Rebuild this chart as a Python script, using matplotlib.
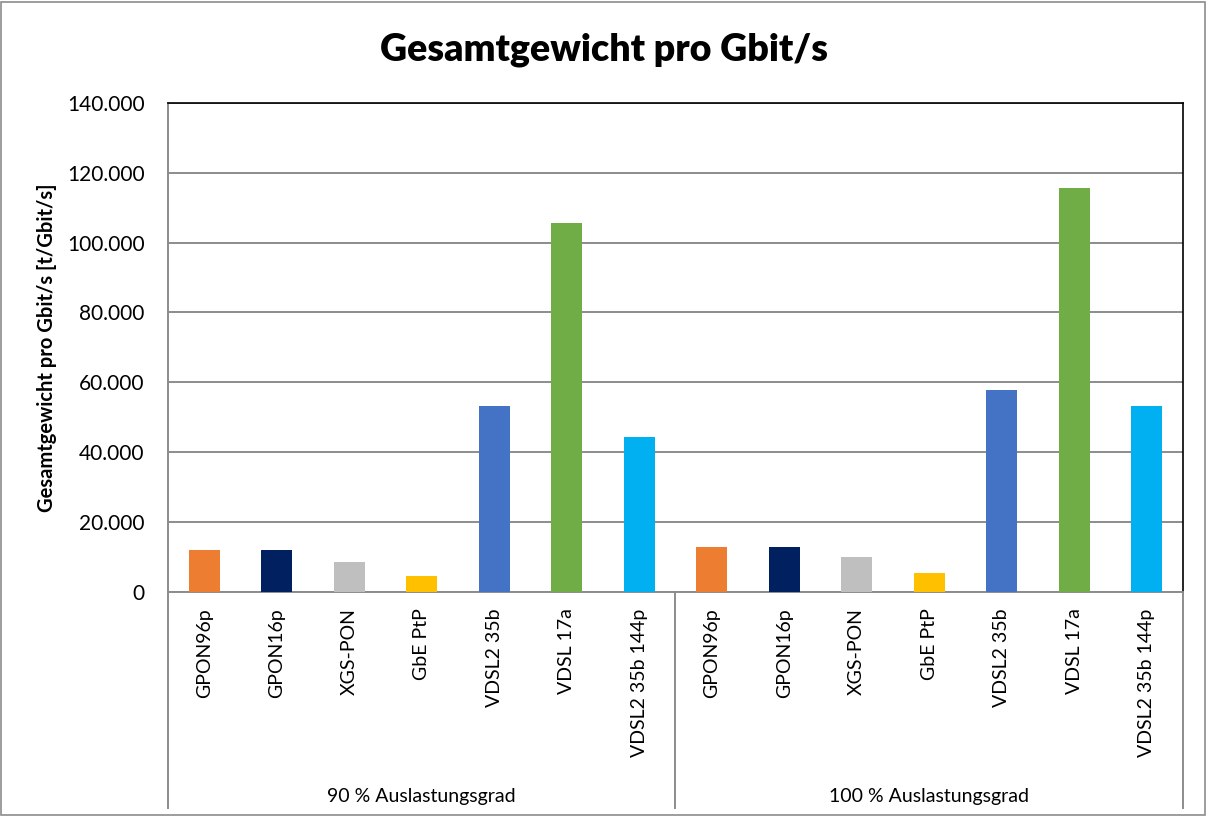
import matplotlib.pyplot as plt
import matplotlib.ticker as mticker
from matplotlib.patches import Rectangle

# data
technologies = ["GPON96p", "GPON16p", "XGS-PON", "GbE PtP",
                "VDSL2 35b", "VDSL 17a", "VDSL2 35b 144p"]
groups = ["90 % Auslastungsgrad", "100 % Auslastungsgrad"]
values_90 = [11800, 11800, 8600, 4600, 53200, 105700, 44200]
values_100 = [12800, 12800, 9900, 5400, 57900, 115600, 53300]
colors = ["#ED7D31", "#002060", "#BFBFBF", "#FFC000",
          "#4472C4", "#70AD47", "#00B0F0"]

plt.rcParams["font.family"] = ["Lato", "DejaVu Sans"]

fig = plt.figure(figsize=(12.07, 8.17), dpi=100)
ax = fig.add_axes([0.1392, 0.2758, 0.8409, 0.5981])

n = len(technologies)
all_vals = values_90 + values_100
xs = list(range(len(all_vals)))
ax.bar(xs, all_vals, width=0.43, color=colors * 2, zorder=3)

ax.set_xlim(-0.5, 2 * n - 0.5)
ax.set_ylim(0, 140000)
ax.yaxis.set_major_locator(mticker.MultipleLocator(20000))
ax.yaxis.set_major_formatter(
    mticker.FuncFormatter(lambda v, p: "0" if v == 0 else f"{int(v):,}".replace(",", ".")))
ax.tick_params(axis="y", length=0, pad=17, labelsize=15)
ax.grid(axis="y", color="#8c8c8c", lw=1.4, zorder=0)

ax.set_xticks(xs)
ax.set_xticklabels(technologies * 2, rotation=90, fontsize=14, va="top")
ax.tick_params(axis="x", length=0, pad=12)

for side in ["left", "bottom"]:
    ax.spines[side].set_color("#8c8c8c")
    ax.spines[side].set_linewidth(1.4)
for side in ["top", "right"]:
    ax.spines[side].set_color("black")
    ax.spines[side].set_linewidth(1.2)

# second category level: separators and group labels
for xsep in [-0.5, n - 0.5, 2 * n - 0.5]:
    ax.plot([xsep, xsep], [0, -0.443], transform=ax.get_xaxis_transform(),
            color="#8c8c8c", lw=1.4, clip_on=False)
for i, g in enumerate(groups):
    ax.text(i * n + (n - 1) / 2, -0.420, g, transform=ax.get_xaxis_transform(),
            ha="center", va="center", fontsize=14)

ax.set_ylabel("Gesamtgewicht pro Gbit/s [t/Gbit/s]", fontsize=14.5,
              fontweight="bold", labelpad=7)
fig.text(0.5, 0.939, "Gesamtgewicht pro Gbit/s", ha="center", va="center",
         fontsize=27, fontweight="heavy")

fig.patches.append(Rectangle((0.001, 0.002), 0.997, 0.996, transform=fig.transFigure,
                             fill=False, edgecolor="#8c8c8c", lw=1.2))

fig.savefig("out.png", dpi=100)
